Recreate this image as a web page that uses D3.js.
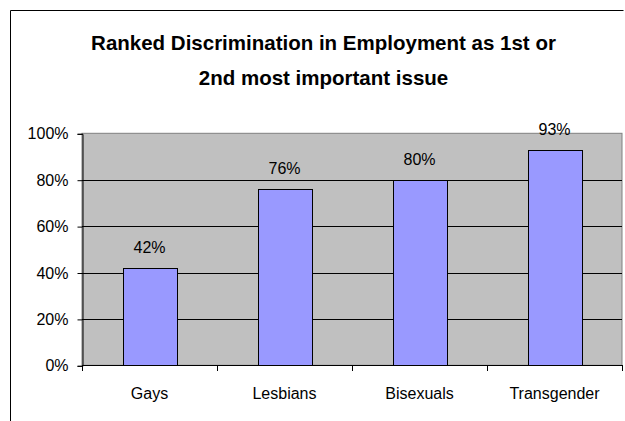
<!DOCTYPE html>
<html>
<head>
<meta charset="utf-8">
<script src="https://cdn.jsdelivr.net/npm/d3@7/dist/d3.min.js"></script>
<style>
  html, body { margin: 0; padding: 0; background: #fff; }
  svg { display: block; font-family: "Liberation Sans", Arial, sans-serif; }
</style>
</head>
<body>
<svg id="chart" width="625" height="421"></svg>
<script>
// Share of respondents ranking employment discrimination as 1st or 2nd issue
const categories = ["Gays", "Lesbians", "Bisexuals", "Transgender"];
const values = [0.42, 0.76, 0.80, 0.93];
const valueLabels = ["42%", "76%", "80%", "93%"];
const yTicks = [0, 0.2, 0.4, 0.6, 0.8, 1.0];
const titleLines = ["Ranked Discrimination in Employment as 1st or", "2nd most important issue"];

const svg = d3.select("#chart");

// Chart frame (top and left edges visible)
svg.append("path")
  .attr("d", "M10.5,421 V10.5 H623.5")
  .attr("fill", "none")
  .attr("stroke", "#000")
  .attr("stroke-width", 1);

const plot = { left: 82, right: 622, top: 133.3, bottom: 365.3 };

const x = d3.scaleBand()
  .domain(categories)
  .range([plot.left, plot.right])
  .paddingInner(0.6)
  .paddingOuter(0.3);

const xEdge = d3.scaleLinear()
  .domain([0, categories.length])
  .range([plot.left, plot.right]);

const y = d3.scaleLinear()
  .domain([0, 1])
  .range([plot.bottom, plot.top]);

// Plot background
svg.append("rect")
  .attr("x", plot.left)
  .attr("y", plot.top)
  .attr("width", plot.right - plot.left)
  .attr("height", plot.bottom - plot.top)
  .attr("fill", "#c0c0c0")
  .attr("stroke", "#808080")
  .attr("stroke-width", 1);

// Gridlines
svg.append("g")
  .selectAll("line")
  .data(yTicks.filter(d => d > 0 && d < 1))
  .join("line")
  .attr("x1", plot.left)
  .attr("x2", plot.right)
  .attr("y1", d => Math.round(y(d)) + 0.5)
  .attr("y2", d => Math.round(y(d)) + 0.5)
  .attr("stroke", "#000")
  .attr("stroke-width", 1);

// Bars
svg.append("g")
  .selectAll("rect")
  .data(values)
  .join("rect")
  .attr("x", (d, i) => Math.round(x(categories[i])) + 0.5)
  .attr("y", d => Math.round(y(d)) + 0.5)
  .attr("width", x.bandwidth())
  .attr("height", d => Math.round(y(0)) - Math.round(y(d)))
  .attr("fill", "#9999ff")
  .attr("stroke", "#000")
  .attr("stroke-width", 1);

// Value labels
svg.append("g")
  .selectAll("text")
  .data(values)
  .join("text")
  .attr("x", (d, i) => x(categories[i]) + x.bandwidth() / 2)
  .attr("y", d => y(d) - 14.5)
  .attr("text-anchor", "middle")
  .attr("font-size", 16)
  .attr("fill", "#000")
  .text((d, i) => valueLabels[i]);

// Y axis
const yAxis = d3.axisLeft(y)
  .tickValues(yTicks)
  .tickFormat(d3.format(".0%"))
  .tickSize(5)
  .tickPadding(9);

const gy = svg.append("g")
  .attr("transform", `translate(${plot.left + 0.5},0.5)`)
  .call(yAxis);
gy.selectAll("text").attr("font-size", 16).attr("fill", "#000").attr("font-family", null);
gy.selectAll("line").attr("stroke", "#000");
gy.select(".domain").attr("stroke", "#000");

// X axis line with ticks at category boundaries
const gx = svg.append("g");
gx.append("line")
  .attr("x1", plot.left)
  .attr("x2", plot.right)
  .attr("y1", Math.round(plot.bottom) + 0.5)
  .attr("y2", Math.round(plot.bottom) + 0.5)
  .attr("stroke", "#000");
gx.selectAll("line.tick")
  .data(d3.range(categories.length + 1))
  .join("line")
  .attr("class", "tick")
  .attr("x1", d => Math.round(xEdge(d)) + 0.5)
  .attr("x2", d => Math.round(xEdge(d)) + 0.5)
  .attr("y1", Math.round(plot.bottom))
  .attr("y2", Math.round(plot.bottom) + 6)
  .attr("stroke", "#000");
gx.selectAll("text")
  .data(categories)
  .join("text")
  .attr("x", d => x(d) + x.bandwidth() / 2)
  .attr("y", plot.bottom + 34)
  .attr("text-anchor", "middle")
  .attr("font-size", 16)
  .attr("fill", "#000")
  .text(d => d);

// Title
svg.append("g")
  .selectAll("text")
  .data(titleLines)
  .join("text")
  .attr("x", 323.5)
  .attr("y", (d, i) => 49.5 + i * 35)
  .attr("text-anchor", "middle")
  .attr("font-size", 20.5)
  .attr("font-weight", "bold")
  .attr("fill", "#000")
  .text(d => d);
</script>
</body>
</html>
